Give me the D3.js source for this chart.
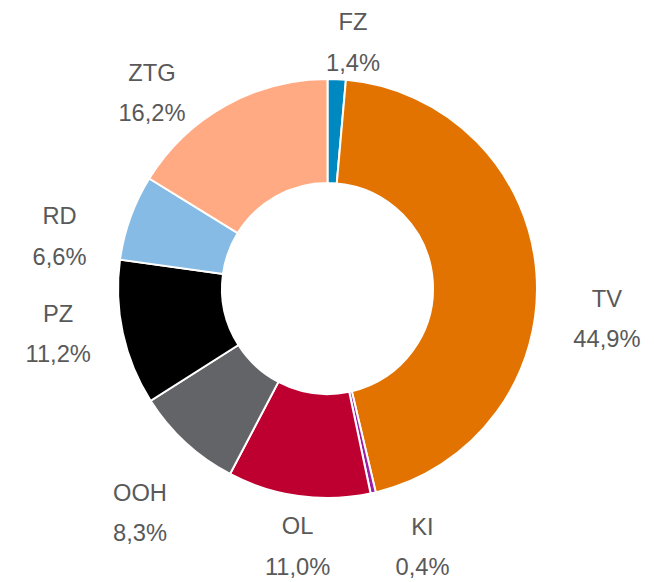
<!DOCTYPE html>
<html lang="de">
<head>
    <meta charset="UTF-8">
    <title>Doughnut</title>
    <style>
        body { margin: 0; background: #fff; }
        .lbl { font-family: "Liberation Sans", Arial, sans-serif; font-size: 23.7px; fill: #595959; }
    </style>
</head>
<body>
    <div id="chart"></div>
    <script src="https://d3js.org/d3.v7.min.js"></script>
    <script>
        const categories = ['FZ', 'TV', 'KI', 'OL', 'OOH', 'PZ', 'RD', 'ZTG'];
        const shares = [1.4, 44.9, 0.4, 11.0, 8.3, 11.2, 6.6, 16.2];
        const colors = ['#0089c1', '#e27300', '#9b1fa3', '#be0030', '#636467', '#000000', '#85bbe4', '#ffaa82'];

        const w = 654;
        const h = 582;
        const cx = 327.5, cy = 288.5;
        const outerR = 209.5, innerR = 105.5;

        // labels were dragged by hand in the original:
        // [angle shift from slice middle in degrees, distance from centre]
        const labelPlace = {
            FZ: [3.4, 248], TV: [10.3, 281], KI: [-7.6, 275], OL: [-1.3, 259],
            OOH: [-2.7, 292], PZ: [2.8, 273], RD: [-8.7, 273], ZTG: [-12.7, 263]
        };

        const dataset = categories.map((c, i) => ({name: c, value: shares[i], color: colors[i]}));

        const pie = d3.pie().sort(null).value(d => d.value);
        const arc = d3.arc().innerRadius(innerR).outerRadius(outerR);
        const arcs = pie(dataset);

        const svg = d3.select('#chart')
            .append('svg')
            .attr('width', w)
            .attr('height', h);

        const g = svg.append('g').attr('transform', `translate(${cx},${cy})`);

        g.selectAll('path')
            .data(arcs)
            .enter()
            .append('path')
            .attr('d', arc)
            .attr('fill', d => d.data.color)
            .attr('stroke', '#fff')
            .attr('stroke-width', 2);

        const fmt = v => v.toFixed(1).replace('.', ',') + '%';

        const labels = g.selectAll('g.label')
            .data(arcs)
            .enter()
            .append('g')
            .attr('class', 'label')
            .attr('transform', d => {
                const p = labelPlace[d.data.name];
                const a = (d.startAngle + d.endAngle) / 2 + p[0] * Math.PI / 180;
                return `translate(${p[1] * Math.sin(a)},${-p[1] * Math.cos(a)})`;
            });

        labels.append('text')
            .attr('class', 'lbl')
            .attr('text-anchor', 'middle')
            .attr('y', -11.75)
            .text(d => d.data.name);
        labels.append('text')
            .attr('class', 'lbl')
            .attr('text-anchor', 'middle')
            .attr('y', 28.75)
            .text(d => fmt(d.data.value));
    </script>
</body>
</html>
